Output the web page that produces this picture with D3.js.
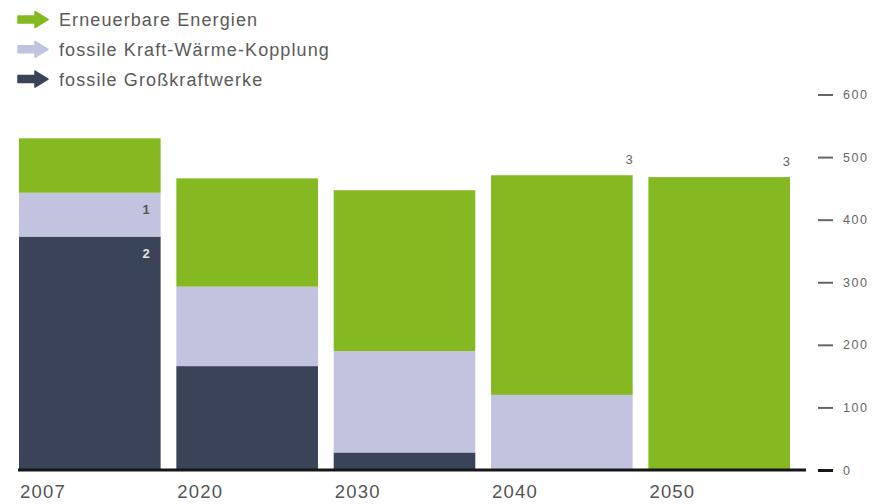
<!DOCTYPE html>
<html>
<head>
<meta charset="utf-8">
<script src="https://cdn.jsdelivr.net/npm/d3@7"></script>
<style>
  html, body { margin: 0; padding: 0; background: #fff; }
  svg { display: block; }
  text { font-family: "Liberation Sans", Arial, sans-serif; }
</style>
</head>
<body>
<svg id="chart" width="874" height="504"></svg>
<script>
// Stromerzeugung nach Quelle (TWh)
const years = ["2007", "2020", "2030", "2040", "2050"];
const grosskraftwerke = [373, 166, 28, 0, 0];
const kwk = [70, 127, 162, 120, 0];
const erneuerbare = [87, 173, 257, 351, 468];
const yTicks = [0, 100, 200, 300, 400, 500, 600];

const seriesKeys = ["gross", "kwk", "ee"];
const seriesNames = {
  ee: "Erneuerbare Energien",
  kwk: "fossile Kraft-Wärme-Kopplung",
  gross: "fossile Großkraftwerke"
};
const colors = { ee: "#84b922", kwk: "#c2c4df", gross: "#3a4358" };

// Footnote markers: [year, series, text]
const notes = [
  ["2007", "kwk", "1"],
  ["2007", "gross", "2"],
  ["2040", "ee", "3"],
  ["2050", "ee", "3"]
];

const rows = years.map((y, i) => ({
  year: y, gross: grosskraftwerke[i], kwk: kwk[i], ee: erneuerbare[i]
}));

const svg = d3.select("#chart");

const x = d3.scaleBand().domain(years).range([19, 790]).paddingInner(0.1).paddingOuter(0);
const y = d3.scaleLinear().domain([0, 600]).range([470, 94.5]);

const stacked = d3.stack().keys(seriesKeys)(rows);

// Bars
const layers = svg.append("g").selectAll("g")
  .data(stacked).join("g")
  .attr("fill", d => colors[d.key]);

layers.selectAll("rect")
  .data(d => d.map(v => ({ ...v, key: d.key })))
  .join("rect")
  .attr("x", d => x(d.data.year))
  .attr("width", x.bandwidth())
  .attr("y", d => y(d[1]))
  .attr("height", d => Math.max(0, y(d[0]) - y(d[1])));

// Footnote markers
const layerByKey = Object.fromEntries(stacked.map(s => [s.key, s]));
notes.forEach(([yr, key, txt]) => {
  const idx = years.indexOf(yr);
  const seg = layerByKey[key][idx];
  const right = x(yr) + x.bandwidth();
  if (key === "ee") {
    svg.append("text")
      .attr("x", right)
      .attr("y", y(seg[1]) - 11)
      .attr("text-anchor", "end")
      .attr("font-size", 13)
      .attr("fill", "#666")
      .text(txt);
  } else {
    svg.append("text")
      .attr("x", right - 11)
      .attr("y", y(seg[1]) + 21)
      .attr("text-anchor", "end")
      .attr("font-size", 13)
      .attr("font-weight", "bold")
      .attr("fill", key === "gross" ? "#e2e3ea" : "#555")
      .text(txt);
  }
});

// Baseline
svg.append("line")
  .attr("x1", 18).attr("x2", 806)
  .attr("y1", y(0)).attr("y2", y(0))
  .attr("stroke", "#161616").attr("stroke-width", 3);

// Right value axis
const yAxis = svg.append("g")
  .attr("transform", "translate(818,0)")
  .call(d3.axisRight(y).tickValues(yTicks).tickSize(15).tickPadding(10).tickFormat(d3.format("d")));
yAxis.select(".domain").remove();
yAxis.selectAll(".tick line")
  .attr("stroke", d => d === 0 ? "#161616" : "#666")
  .attr("stroke-width", d => d === 0 ? 3 : 2);
yAxis.selectAll(".tick text")
  .attr("font-size", 12.5)
  .attr("letter-spacing", "1.6px")
  .attr("fill", "#666")
  .attr("font-family", "'Liberation Sans', Arial, sans-serif");

// Year axis, labels aligned with the left edge of each bar
const xAxis = svg.append("g")
  .attr("transform", `translate(0,${y(0)})`)
  .call(d3.axisBottom(x).tickSize(0).tickPadding(0));
xAxis.select(".domain").remove();
xAxis.selectAll(".tick text")
  .attr("x", -x.bandwidth() / 2 + 1)
  .attr("y", 28)
  .attr("dy", 0)
  .attr("text-anchor", "start")
  .attr("font-size", 18.5)
  .attr("letter-spacing", "1.2px")
  .attr("fill", "#555")
  .attr("font-family", "'Liberation Sans', Arial, sans-serif");

// Legend with arrow markers
const legendKeys = ["ee", "kwk", "gross"];
const legend = svg.append("g").selectAll("g")
  .data(legendKeys).join("g")
  .attr("transform", (d, i) => `translate(18,${19.5 + i * 29.8})`);

legend.append("path")
  .attr("d", "M0,-3.5 L17,-3.5 L17,-8 L30,0 L17,8 L17,3.5 L0,3.5 Z")
  .attr("fill", d => colors[d])
  .attr("stroke", d => colors[d])
  .attr("stroke-width", 1.5)
  .attr("stroke-linejoin", "round");

legend.append("text")
  .attr("x", 41)
  .attr("y", 6.5)
  .attr("font-size", 18)
  .attr("letter-spacing", "1.1px")
  .attr("fill", "#5a5a5a")
  .text(d => seriesNames[d]);
</script>
</body>
</html>
